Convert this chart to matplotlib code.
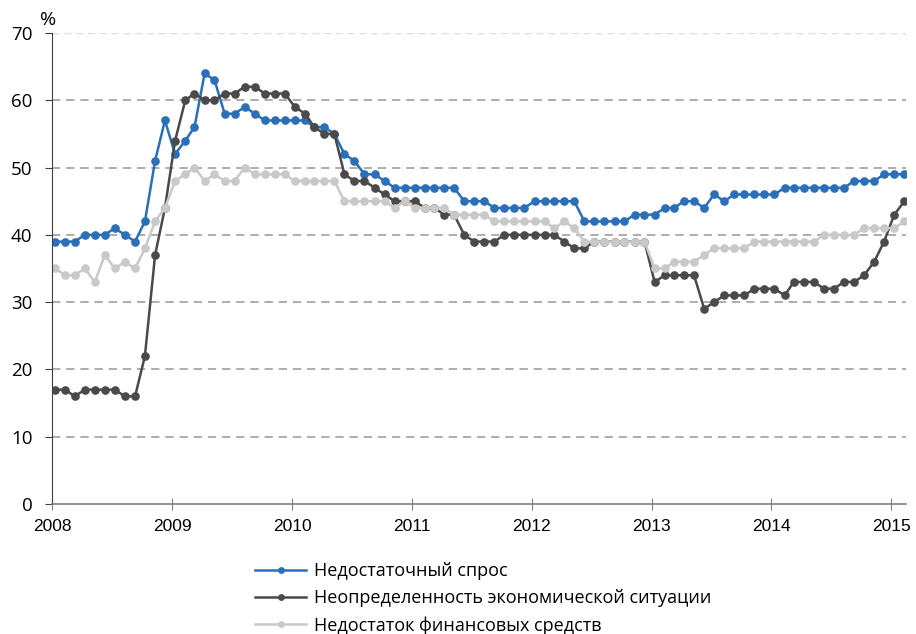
import numpy as np
import pandas as pd
import matplotlib
matplotlib.use("Agg")
import matplotlib.pyplot as plt
import matplotlib.dates as mdates

plt.rcParams['font.family'] = ['Open Sans', 'DejaVu Sans']

# месячные данные, январь 2008 - февраль 2015
months = pd.date_range('2008-01-01', periods=86, freq='MS') + pd.Timedelta(days=9)

demand = [39, 39, 39, 40, 40, 40, 41, 40, 39, 42, 51, 57, 52, 54, 56, 64, 63, 58, 58, 59,
          58, 57, 57, 57, 57, 57, 56, 56, 55, 52, 51, 49, 49, 48, 47, 47, 47, 47, 47, 47,
          47, 45, 45, 45, 44, 44, 44, 44, 45, 45, 45, 45, 45, 42, 42, 42, 42, 42, 43, 43,
          43, 44, 44, 45, 45, 44, 46, 45, 46, 46, 46, 46, 46, 47, 47, 47, 47, 47, 47, 47,
          48, 48, 48, 49, 49, 49]
uncertainty = [17, 17, 16, 17, 17, 17, 17, 16, 16, 22, 37, 44, 54, 60, 61, 60, 60, 61, 61, 62,
               62, 61, 61, 61, 59, 58, 56, 55, 55, 49, 48, 48, 47, 46, 45, 45, 45, 44, 44, 43,
               43, 40, 39, 39, 39, 40, 40, 40, 40, 40, 40, 39, 38, 38, 39, 39, 39, 39, 39, 39,
               33, 34, 34, 34, 34, 29, 30, 31, 31, 31, 32, 32, 32, 31, 33, 33, 33, 32, 32, 33,
               33, 34, 36, 39, 43, 45]
finance = [35, 34, 34, 35, 33, 37, 35, 36, 35, 38, 42, 44, 48, 49, 50, 48, 49, 48, 48, 50,
           49, 49, 49, 49, 48, 48, 48, 48, 48, 45, 45, 45, 45, 45, 44, 45, 44, 44, 44, 44,
           43, 43, 43, 43, 42, 42, 42, 42, 42, 42, 41, 42, 41, 39, 39, 39, 39, 39, 39, 39,
           35, 35, 36, 36, 36, 37, 38, 38, 38, 38, 39, 39, 39, 39, 39, 39, 39, 40, 40, 40,
           40, 41, 41, 41, 41, 42]

labels = ['Недостаточный спрос', 'Неопределенность экономической ситуации',
          'Недостаток финансовых средств']
colors = ['#2a6fb8', '#4a4a4a', '#c9c9c9']

fig = plt.figure(figsize=(9.16, 6.34), dpi=100)
ax = fig.add_axes([0.0568, 0.205, 0.932, 0.743])

for vals, lab, col in zip([demand, uncertainty, finance], labels, colors):
    ax.plot(months, vals, color=col, lw=1.8, marker='o', ms=5.2, label=lab)

ax.set_ylim(0, 70)
ax.set_yticks(range(0, 71, 10))
ax.set_xlim(pd.Timestamp('2008-01-01'), pd.Timestamp('2015-02-14'))
ax.xaxis.set_major_locator(mdates.YearLocator())
ax.xaxis.set_major_formatter(mdates.DateFormatter('%Y'))

for y in range(10, 61, 10):
    ax.axhline(y, color='#a0a0a0', lw=1.2, ls=(0, (5, 3.5)), zorder=0)
ax.axhline(70, color='#dddddd', lw=1.0, ls=(0, (5, 3.5)), zorder=0)

for s in ['top', 'right']:
    ax.spines[s].set_visible(False)
ax.spines['left'].set_color('#404040')
ax.spines['bottom'].set_color('#808080')
ax.spines['bottom'].set_linewidth(1.2)
ax.tick_params(axis='y', direction='out', length=5, labelsize=13.5, colors='#404040',
               labelcolor='black', pad=9)
ax.tick_params(axis='x', direction='inout', length=8, labelsize=12.5, colors='#808080',
               labelcolor='black', pad=7)
for t in ax.get_yticklabels():
    t.set_family(['Open Sans', 'DejaVu Sans'])
for t in ax.get_xticklabels():
    t.set_family(['Liberation Sans', 'DejaVu Sans'])

fig.text(48 / 916, 1 - 20 / 634, '%', fontsize=14, ha='center', va='center')

ax.legend(loc='upper left', bbox_to_anchor=(248 / 916, 1 - 555 / 634),
          bbox_transform=fig.transFigure, frameon=False, fontsize=13,
          handlelength=2.8, handletextpad=0.45, labelspacing=0.5,
          numpoints=1, markerscale=0.75, borderaxespad=0)

fig.savefig('out.png', dpi=100)
